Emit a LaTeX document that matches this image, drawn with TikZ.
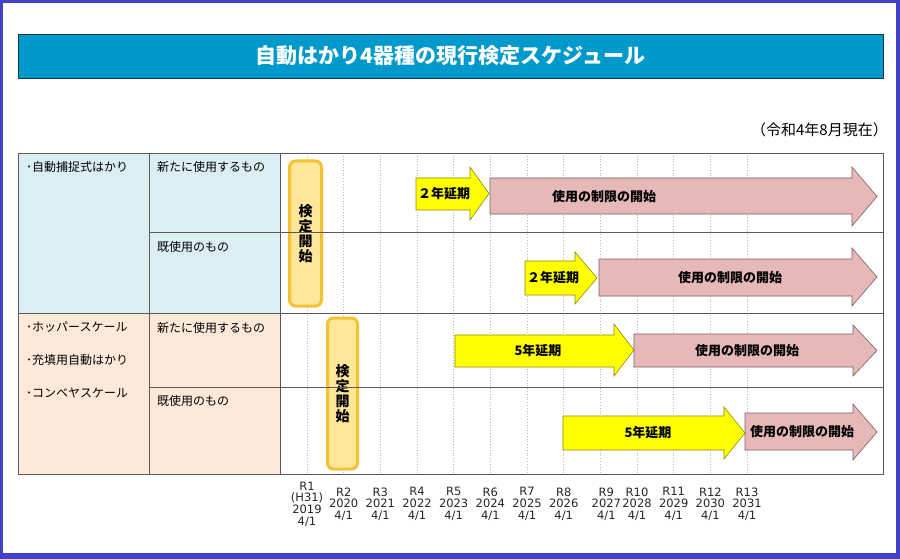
\documentclass[tikz,border=0pt]{standalone}
\usepackage{fontspec}
\setmainfont{Noto Sans CJK JP}
\newfontfamily\vd{DejaVu Sans}
\definecolor{framec}{RGB}{66,66,200}
\definecolor{titlec}{RGB}{0,153,204}
\definecolor{titlebd}{RGB}{30,50,70}
\definecolor{bluecell}{RGB}{218,238,243}
\definecolor{peachcell}{RGB}{253,233,217}
\definecolor{gridc}{RGB}{90,90,90}
\definecolor{dotc}{RGB}{185,185,170}
\definecolor{kfill}{RGB}{255,230,153}
\definecolor{kdraw}{RGB}{242,194,51}
\definecolor{yelc}{RGB}{255,255,0}
\definecolor{yelbd}{RGB}{140,140,0}
\definecolor{pinkc}{RGB}{230,184,183}
\definecolor{pinkbd}{RGB}{120,95,95}
\tikzset{
  celltext/.style={anchor=north west, inner sep=0pt, font=\fontsize{12}{12}\selectfont},
  kbox/.style={draw=kdraw, fill=kfill, line width=3pt, rounded corners=6pt, inner sep=0pt, align=center, font=\bfseries\fontsize{14}{15}\selectfont},
  yarrow/.style={fill=yelc, draw=yelbd, line width=0.6pt},
  parrow/.style={fill=pinkc, draw=pinkbd, line width=0.6pt},
  arrtext/.style={inner sep=0pt, font=\bfseries\fontsize{13}{13}\selectfont},
  axislab/.style={align=center, inner sep=0pt, font=\vd\fontsize{11.5}{11.7}\selectfont, text=black!85}
}
% #1 style, #2 x0, #3 head start x, #4 tip x, #5 body top, #6 body bottom, #7 head top, #8 head bottom
\newcommand{\blockarrow}[8]{%
  \draw[#1] (#2,#5) -- (#3,#5) -- (#3,#7) -- (#4,{(#7+#8)/2}) -- (#3,#8) -- (#3,#6) -- (#2,#6) -- cycle;}
\begin{document}
\begin{tikzpicture}[x=1pt,y=-1pt]
\useasboundingbox (0,0) rectangle (900,559);
\fill[framec] (0,0) rectangle (900,559);
\fill[white] (3,3) rectangle (896,553);
% title
\node[draw=titlebd, fill=titlec, minimum width=865pt, minimum height=44pt, inner sep=0pt,
  text=white, font=\bfseries\fontsize{21}{21}\selectfont] (title) at (450.5,56) {自動はかり4器種の現行検定スケジュール};
\node[anchor=east, inner sep=0pt, font=\fontsize{15}{15}\selectfont] (date) at (888,130) {（令和4年8月現在）};
% cells
\fill[bluecell] (18,153) rectangle (280,313);
\fill[peachcell] (18,313) rectangle (280,474);
% dotted year lines
\foreach \k in {0,...,12} \draw[dotc, dotted, line width=0.8pt] ({307+36.67*\k},153) -- ({307+36.67*\k},474);
% inspection start boxes
\node[kbox, minimum width=32pt, minimum height=145pt] (k1) at (305.5,233.5) {検\\定\\開\\始};
\node[kbox, minimum width=30pt, minimum height=151pt] (k2) at (342.5,393.5) {検\\定\\開\\始};
% arrows row 1
\blockarrow{yarrow}{416}{470}{489}{178}{210}{167}{220}
\node[arrtext] (y1) at (444,194) {２年延期};
\blockarrow{parrow}{490}{852}{877}{178}{214}{167}{226}
\node[arrtext] (p1) at (604,197) {使用の制限の開始};
% row 2
\blockarrow{yarrow}{525}{575}{597}{261}{295}{252}{304}
\node[arrtext] (y2) at (553,278) {２年延期};
\blockarrow{parrow}{599}{852}{877}{259}{296}{248}{306}
\node[arrtext] (p2) at (730,278) {使用の制限の開始};
% row 3
\blockarrow{yarrow}{455}{614}{634}{335}{367}{324}{376}
\node[arrtext] (y3) at (538,351) {5年延期};
\blockarrow{parrow}{634}{853}{877}{334}{367}{325}{376}
\node[arrtext] (p3) at (747,351) {使用の制限の開始};
% row 4
\blockarrow{yarrow}{563}{724}{745}{416}{450}{407}{459}
\node[arrtext] (y4) at (648,433) {5年延期};
\blockarrow{parrow}{745}{853}{877}{413}{450}{404}{460}
\node[arrtext] (p4) at (802,432) {使用の制限の開始};
% table lines
\draw[gridc, line width=0.9pt] (18,153) rectangle (883,474);
\draw[gridc, line width=0.9pt] (149,153) -- (149,474);
\draw[gridc, line width=0.9pt] (280,153) -- (280,474);
\draw[gridc, line width=0.9pt] (18,313) -- (883,313);
\draw[gridc, line width=0.9pt] (149,232) -- (883,232);
\draw[gridc, line width=0.9pt] (149,387) -- (883,387);
% cell texts
\node[celltext] (c1) at (26,161) {･自動捕捉式はかり};
\node[celltext] (c2) at (157,161) {新たに使用するもの};
\node[celltext] (c3) at (157,241) {既使用のもの};
\node[celltext] (c4) at (26,322) {･ホッパースケール};
\node[celltext] (c5) at (26,354) {･充填用自動はかり};
\node[celltext] (c6) at (26,388) {･コンベヤスケール};
\node[celltext] (c7) at (157,322) {新たに使用するもの};
\node[celltext] (c8) at (157,395) {既使用のもの};
% axis labels
\node[axislab] (lab1) at (307,504) {R1\\(H31)\\2019\\4/1};
\foreach \k in {2,...,13} {
  \pgfmathtruncatemacro\yr{2018+\k}
  \pgfmathsetmacro\xx{307+36.67*(\k-1)+(\k==9 ? 6 : 0)}
  \node[axislab] (lab\k) at (\xx,504) {R\k\\\yr\\4/1};
}
\end{tikzpicture}
\end{document}
